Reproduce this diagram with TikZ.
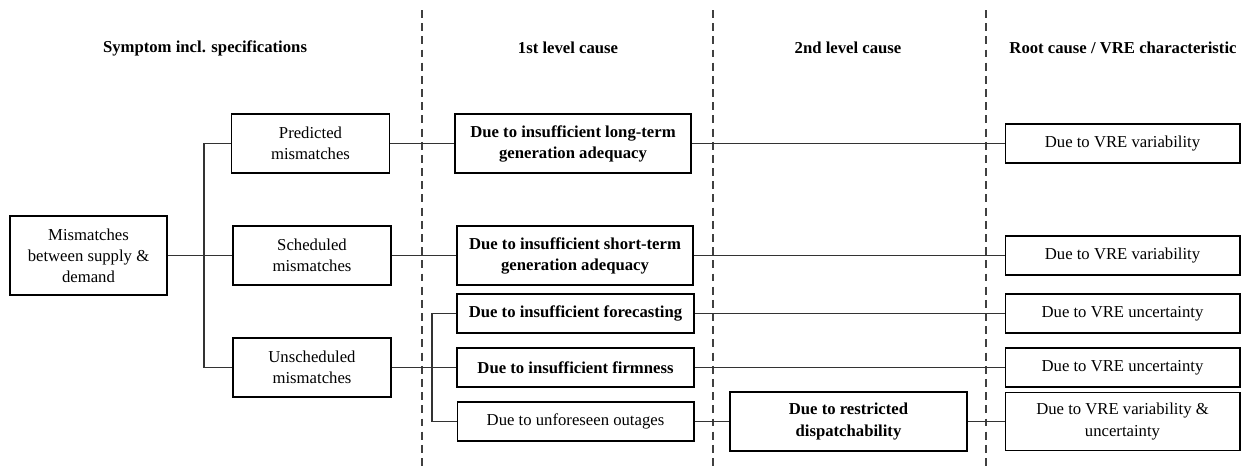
\documentclass[tikz,border=0pt]{standalone}
\usepackage{fontspec}
\setmainfont{Liberation Serif}
\usepackage{tikz}
\newcommand{\drawbox}{\node[draw,rectangle,fill=white,line width=0.6pt,align=center,inner sep=2pt]}
\newcommand{\drawboldbox}{\node[draw,rectangle,fill=white,line width=1.2pt,align=center,inner sep=2pt,font=\fontsize{9.5}{12}\selectfont\bfseries]}
\newcommand{\drawhead}{\node[font=\fontsize{9.5}{12}\selectfont\bfseries]}

\begin{document}
\begin{tikzpicture}[x=0.02cm,y=-0.02cm,every node/.style={font=\fontsize{9.5}{12}\selectfont},
  sepline/.style={dash pattern=on 4.5pt off 3pt,line width=0.6pt,black!75},
  link/.style={line width=0.6pt,black!80}]
\useasboundingbox (0,0) rectangle (1251,468);
%column separators
\foreach \x in {422,713,986} \draw[sepline] (\x,10) -- (\x,468);

%headers
\drawhead (hSym) at (205,48) {Symptom incl. specifications};
\drawhead (hFirst) at (568,48) {1st level cause};
\drawhead (hSecond) at (848,48) {2nd level cause};
\drawhead (hRoot) at (1123,48) {Root cause / VRE characteristic};

%symptom
\drawbox[minimum width=3.14cm,minimum height=1.58cm] (mis) at (88.5,255.5) {Mismatches\\between supply \&\\demand};
\drawbox[minimum width=3.16cm,minimum height=1.18cm] (pred) at (310.5,143.5) {Predicted\\mismatches};
\drawbox[minimum width=3.16cm,minimum height=1.18cm] (sched) at (312,255.5) {Scheduled\\mismatches};
\drawbox[minimum width=3.16cm,minimum height=1.18cm] (unsched) at (312,367.5) {Unscheduled\\mismatches};

%1st level cause
\drawboldbox[minimum width=4.72cm,minimum height=1.18cm] (long) at (573,143.5) {Due to insufficient long-term\\generation adequacy};
\drawboldbox[minimum width=4.72cm,minimum height=1.18cm] (short) at (575,255.5) {Due to insufficient short-term\\generation adequacy};
\drawboldbox[minimum width=4.74cm,minimum height=0.78cm] (fore) at (575.5,313.5) {Due to insufficient forecasting};
\drawboldbox[minimum width=4.74cm,minimum height=0.78cm] (firm) at (575.5,367.5) {Due to insufficient firmness};
\drawbox[minimum width=4.74cm,minimum height=0.78cm] (outage) at (575.5,421.5) {Due to unforeseen outages};

%2nd level cause
\drawboldbox[minimum width=4.74cm,minimum height=1.18cm] (restr) at (848.5,421.5) {Due to restricted\\dispatchability};

%root cause
\drawbox[minimum width=4.7cm,minimum height=0.78cm] (root1) at (1122.5,143.5) {Due to VRE variability};
\drawbox[minimum width=4.7cm,minimum height=0.78cm] (root2) at (1122.5,255.5) {Due to VRE variability};
\drawbox[minimum width=4.7cm,minimum height=0.78cm] (root3) at (1122.5,313.5) {Due to VRE uncertainty};
\drawbox[minimum width=4.7cm,minimum height=0.78cm] (root4) at (1122.5,367.5) {Due to VRE uncertainty};
\drawbox[minimum width=4.7cm,minimum height=1.16cm] (root5) at (1122.5,421.5) {Due to VRE variability \&\\uncertainty};

%links
\coordinate (symFork) at (204,255.5);
\coordinate (outFork) at (432,367.5);
\draw[link] (mis) -- (sched);
\draw[link] (pred.west) -| (symFork) |- (unsched.west);
\draw[link] (pred) -- (long);
\draw[link] (sched) -- (short);
\draw[link] (unsched) -- (firm);
\draw[link] (fore.west) -| (outFork) |- (outage.west);
\draw[link] (long) -- (root1);
\draw[link] (short) -- (root2);
\draw[link] (fore) -- (root3);
\draw[link] (firm) -- (root4);
\draw[link] (outage) -- (restr);
\draw[link] (restr) -- (root5);

\end{tikzpicture}
\end{document}
